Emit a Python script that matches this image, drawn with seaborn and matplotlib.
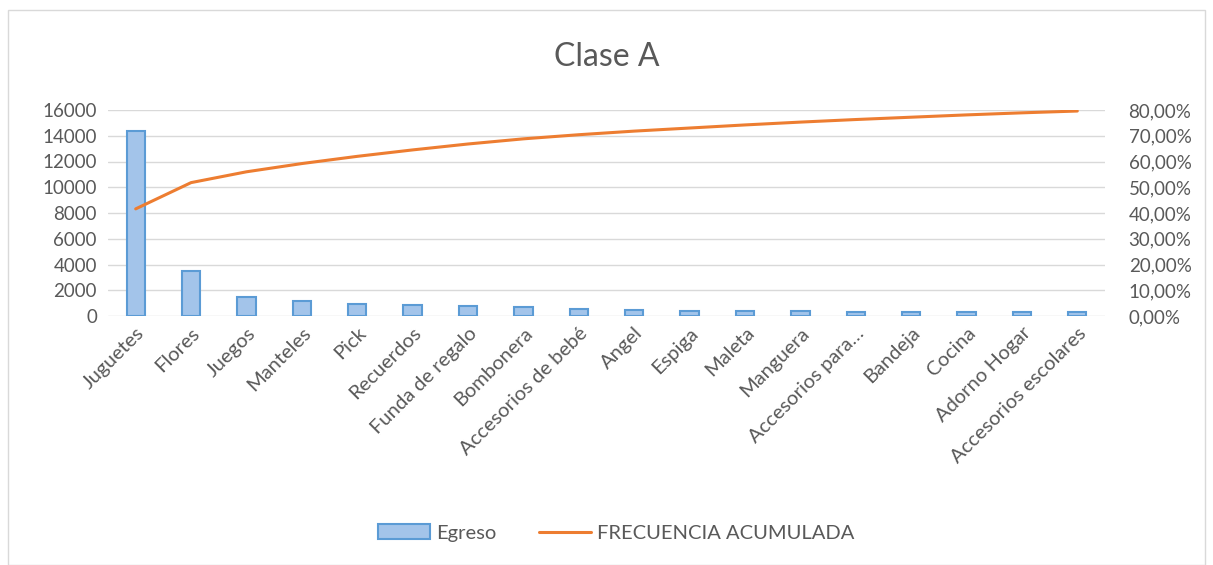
import matplotlib
matplotlib.use('Agg')
import matplotlib.pyplot as plt
import matplotlib.ticker as mticker
from matplotlib.patches import Rectangle
import seaborn as sns
import pandas as pd

# Data
categories = ['Juguetes', 'Flores', 'Juegos', 'Manteles', 'Pick', 'Recuerdos',
              'Funda de regalo', 'Bombonera', 'Accesorios de bebé', 'Angel',
              'Espiga', 'Maleta', 'Manguera', 'Accesorios para…', 'Bandeja',
              'Cocina', 'Adorno Hogar', 'Accesorios escolares']
egreso = [14400, 3500, 1450, 1140, 955, 855, 780, 700, 570, 440,
          390, 360, 350, 340, 320, 310, 300, 300]
frecuencia = [41.6, 51.8, 56.0, 59.2, 62.0, 64.5, 66.8, 68.8, 70.4, 71.8,
              73.0, 74.2, 75.3, 76.3, 77.2, 78.1, 78.9, 79.6]

GRAY = '#595959'
GRID = '#D9D9D9'

df = pd.DataFrame({'categoria': categories, 'egreso': egreso,
                   'frecuencia': frecuencia})

sns.set_theme(style='white')
plt.rcParams['font.family'] = ['Lato', 'DejaVu Sans']

fig = plt.figure(figsize=(12.13, 5.65), dpi=100)
ax = fig.add_axes([108 / 1213, 1 - 316 / 565, (1105 - 108) / 1213, 206 / 565])

sns.barplot(data=df, x='categoria', y='egreso', ax=ax, width=0.33,
            color='#A3C4EA', edgecolor='#5B9BD5', linewidth=1.5,
            saturation=1, label='Egreso')
ax.set_ylim(0, 16000)
ax.set_yticks(range(0, 16001, 2000))
ax.yaxis.grid(True, color=GRID, linewidth=1)
ax.set_axisbelow(True)
ax.set_xlim(-0.5, len(categories) - 0.5)
ax.set_xlabel('')
ax.set_ylabel('')
for s in ax.spines.values():
    s.set_visible(False)
ax.tick_params(axis='y', length=0, labelsize=13.5, labelcolor=GRAY, pad=8)
ax.tick_params(axis='x', length=0, labelsize=14.5, labelcolor=GRAY, pad=6)
ax.set_xticks(range(len(categories)))
ax.set_xticklabels(categories, rotation=45, ha='right', rotation_mode='anchor')

ax2 = ax.twinx()
sns.lineplot(data=df, x='categoria', y='frecuencia', ax=ax2, color='#ED7D31',
             linewidth=2.2, label='FRECUENCIA ACUMULADA', sort=False)
ax2.set_ylim(0, 80)
ax2.set_yticks(range(0, 81, 10))
ax2.yaxis.set_major_formatter(mticker.FuncFormatter(lambda v, p: f'{v:.2f}%'.replace('.', ',')))
ax2.set_ylabel('')
for s in ax2.spines.values():
    s.set_visible(False)
ax2.tick_params(axis='y', length=0, labelsize=13.5, labelcolor=GRAY, pad=17)
ax2.get_legend().remove()
if ax.get_legend():
    ax.get_legend().remove()

fig.text(0.5, 1 - 57 / 565, 'Clase A', ha='center', va='center',
         fontsize=23, color=GRAY)

h1, l1 = ax.get_legend_handles_labels()
h2, l2 = ax2.get_legend_handles_labels()
fig.legend(h1 + h2, l1 + l2, loc='center', bbox_to_anchor=(0.508, 1 - 533 / 565),
           ncol=2, frameon=False, fontsize=14.5, labelcolor=GRAY,
           columnspacing=2.1, handlelength=2.6, handletextpad=0.3)

fig.patches.append(Rectangle((8 / 1213, 0), 1 - 16 / 1213, 1 - 10 / 565,
                             transform=fig.transFigure, fill=False,
                             edgecolor=GRID, linewidth=1))

fig.savefig('out.png', dpi=100)
